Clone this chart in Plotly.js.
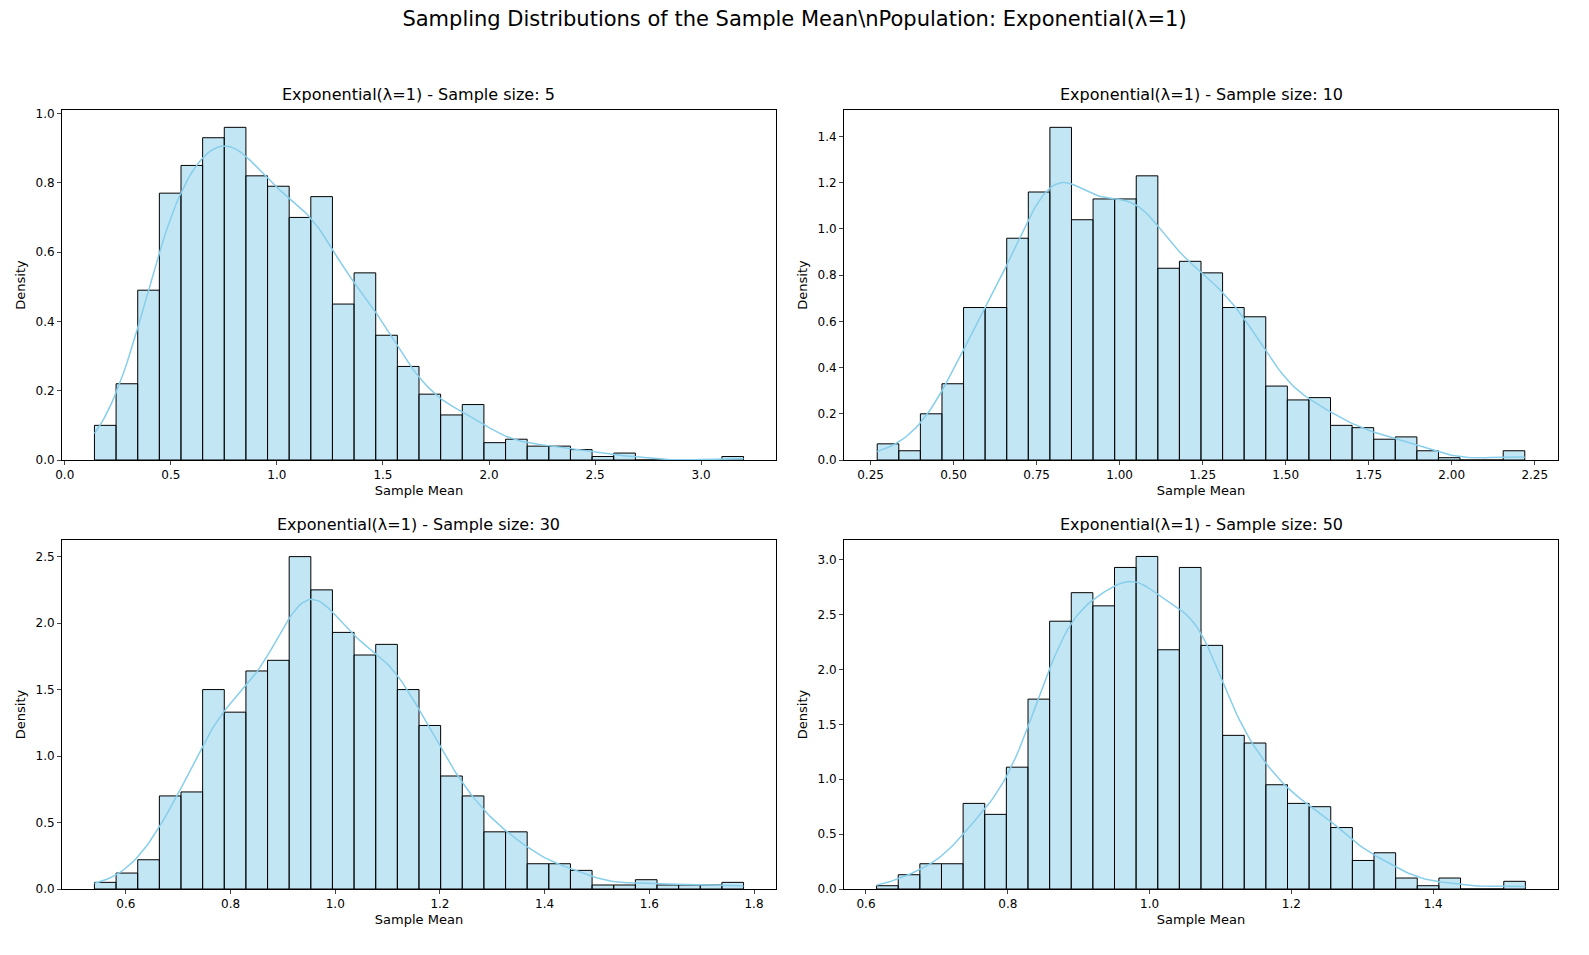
<!DOCTYPE html>
<html><head><meta charset="utf-8">
<script src="https://cdn.plot.ly/plotly-3.0.1.min.js"></script>
<style>body{margin:0;background:#fff}</style></head>
<body><div id="chart" style="width:1589px;height:955px"></div>
<script>
const sampleSizes = [5, 10, 30, 50];
const binStart = [0.14, 0.27, 0.54, 0.615];
const binEnd = [3.2, 2.22, 1.78, 1.53];
const heights5 = [0.10,0.22,0.49,0.77,0.85,0.93,0.96,0.82,0.79,0.70,0.76,0.45,0.54,0.36,0.27,0.19,0.13,0.16,0.05,0.06,0.04,0.04,0.03,0.01,0.02,0,0,0,0,0.01];
const heights10 = [0.07,0.04,0.20,0.33,0.66,0.66,0.96,1.16,1.44,1.04,1.13,1.13,1.23,0.83,0.86,0.81,0.66,0.62,0.32,0.26,0.27,0.15,0.14,0.09,0.10,0.04,0.01,0,0,0.04];
const heights30 = [0.05,0.12,0.22,0.70,0.73,1.50,1.33,1.64,1.72,2.50,2.25,1.93,1.76,1.84,1.50,1.23,0.85,0.70,0.43,0.43,0.19,0.19,0.14,0.03,0.03,0.07,0.03,0.03,0.03,0.05];
const heights50 = [0.03,0.13,0.23,0.23,0.78,0.68,1.11,1.73,2.44,2.70,2.58,2.93,3.03,2.18,2.93,2.22,1.40,1.33,0.95,0.78,0.75,0.56,0.26,0.33,0.10,0.03,0.10,0,0,0.07];
const allHeights = [heights5, heights10, heights30, heights50];
const xRanges = [[-0.013,3.353],[0.17,2.32],[0.478,1.842],[0.569,1.576]];
const yRanges = [[0,1.01],[0,1.515],[0,2.625],[0,3.18]];
const xDticks = [0.5,0.25,0.2,0.2];
const xFormats = ['.1f','.2f','.1f','.1f'];
const yDticks = [0.2,0.2,0.5,0.5];

const traces = [];
const layout = {
  width:1589, height:955, paper_bgcolor:'#fff', plot_bgcolor:'#fff',
  showlegend:false, bargap:0,
  font:{family:'DejaVu Sans', size:12, color:'#000'},
  margin:{l:0,r:0,t:0,b:0},
  title:{text:'Sampling Distributions of the Sample Mean\\nPopulation: Exponential(λ=1)', font:{size:21}, x:0.5, xanchor:'center', y:0.98, yanchor:'middle'},
  annotations:[]
};
const W=1589,H=955;
const boxes = [[62,776,110,460],[844,1558,110,460],[62,776,540,889],[844,1558,540,889]];
allHeights.forEach((h,i)=>{
  const n=h.length, w=(binEnd[i]-binStart[i])/n;
  const centers=h.map((_,k)=>binStart[i]+w*(k+0.5));
  const ax = i===0?'':String(i+1);
  traces.push({type:'bar', x:centers, y:h, width:w, xaxis:'x'+ax, yaxis:'y'+ax,
    marker:{color:'rgba(135,206,235,0.5)', line:{color:'#000',width:1}}, hoverinfo:'skip'});
  let tot=0, mean=0; h.forEach((v,k)=>{tot+=v;mean+=v*centers[k];}); mean/=tot;
  let vr=0; h.forEach((v,k)=>{vr+=v*(centers[k]-mean)**2;}); vr/=tot;
  const bw=1.06*Math.sqrt(vr)*Math.pow(1000,-0.2)*0.9;
  const kx=[],ky=[];
  for(let j=0;j<=200;j++){const x=binStart[i]+(binEnd[i]-binStart[i])*j/200; let s=0;
    h.forEach((v,k)=>{s+=v*w*Math.exp(-0.5*((x-centers[k])/bw)**2);}); kx.push(x); ky.push(s/(bw*Math.sqrt(2*Math.PI)));}
  traces.push({type:'scatter',mode:'lines',x:kx,y:ky,xaxis:'x'+ax,yaxis:'y'+ax,line:{color:'#87CEEB',width:1.5},hoverinfo:'skip'});
  const b=boxes[i];
  const common={showline:true,mirror:true,linecolor:'#000',linewidth:1,ticks:'outside',ticklen:4,showgrid:false,zeroline:false,tickfont:{size:12}};
  layout['xaxis'+ax]=Object.assign({},common,{domain:[b[0]/W,b[1]/W],range:xRanges[i],dtick:xDticks[i],tick0:0,tickformat:xFormats[i],anchor:'y'+ax,title:{text:'Sample Mean',font:{size:13},standoff:4}});
  layout['yaxis'+ax]=Object.assign({},common,{domain:[1-b[3]/H,1-b[2]/H],range:yRanges[i],dtick:yDticks[i],tickformat:'.1f',anchor:'x'+ax,title:{text:'Density',font:{size:13},standoff:6}});
  layout.annotations.push({text:'Exponential(λ=1) - Sample size: '+sampleSizes[i],xref:'paper',yref:'paper',x:(b[0]+b[1])/2/W,y:1-(b[2]-4)/H,xanchor:'center',yanchor:'bottom',showarrow:false,font:{size:16}});
});
Plotly.newPlot('chart',traces,layout,{staticPlot:true});
</script></body></html>
